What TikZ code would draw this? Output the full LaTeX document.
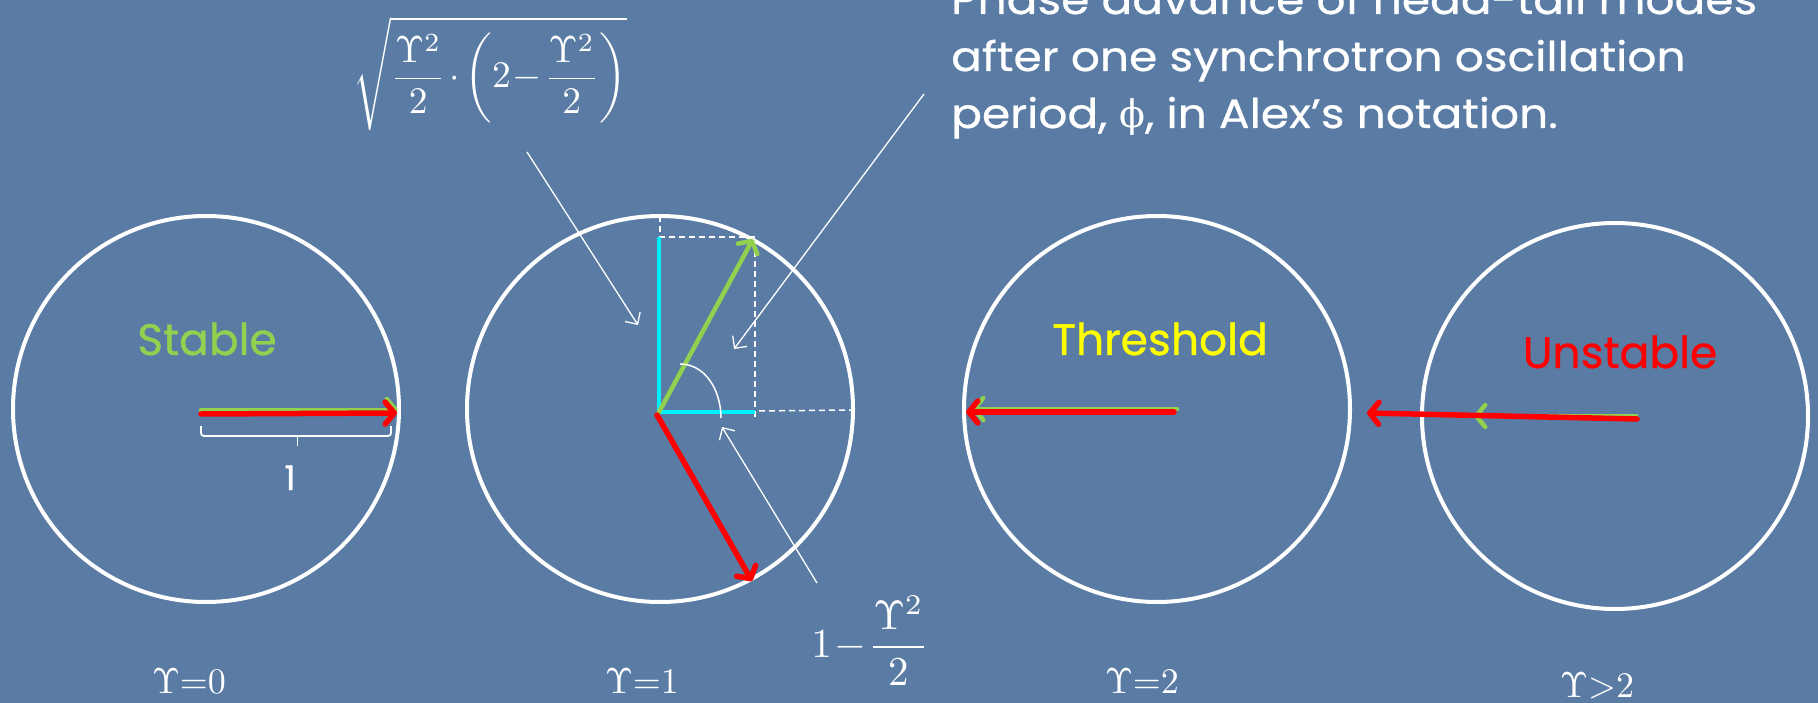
\documentclass[tikz,border=0pt]{standalone}
\usepackage{amsmath}
\usepackage{fontspec}
\setmainfont{Poppins}
\newfontfamily\titlefont[FakeStretch=1.11,FakeBold=0.6]{Poppins}
\newfontfamily\statefont[FakeBold=0.8]{Poppins}
\newfontfamily\phifont{DejaVu Serif}
\usetikzlibrary{arrows.meta}
\definecolor{bg}{RGB}{90,124,164}
\definecolor{lgreen}{RGB}{146,208,80}
\definecolor{cyanx}{RGB}{0,240,255}
\definecolor{yel}{RGB}{255,255,0}
\begin{document}
\begin{tikzpicture}[x=1pt,y=-1pt,
  ring/.style={draw=white,line width=4pt,circle,minimum size=386pt,inner sep=0pt},
  thinarrow/.style={draw=white,line width=1.3pt,-{Straight Barb[length=9pt,width=18pt]}},
  redvec/.style={draw=red,line width=5.5pt,line cap=round,-{Straight Barb[length=9pt,width=22pt,round]}},
  greenvec/.style={draw=lgreen,line width=4.5pt,line cap=round,-{Straight Barb[length=9pt,width=22pt,round]}},
  cyanline/.style={draw=cyanx,line width=4pt},
  guide/.style={draw=white,line width=1.5pt,dash pattern=on 6pt off 4pt},
  title/.style={inner sep=0pt,anchor=base west,text=white,font=\titlefont\fontsize{41}{49}\selectfont},
  state/.style={inner sep=0pt,anchor=base,font=\statefont\fontsize{44}{52}\selectfont},
  gam/.style={inner sep=0pt,anchor=base,text=white},
  mathlbl/.style={inner sep=0pt,text=white},
]
\useasboundingbox (0,0) rectangle (1818,703);
\fill[bg] (0,0) rectangle (1818,703);
\clip (0,0) rectangle (1818,703);

% circles
\node[ring] (c1) at (206,409) {};
\node[ring] (c2) at (660,409) {};
\node[ring] (c3) at (1157,409) {};
\node[ring] (c4) at (1615,416) {};

% top text
\node[title] (t1) at (951,14) {Phase advance of head-tail modes};
\node[title] (t2) at (951,71) {after one synchrotron oscillation};
\node[title] (t3) at (951,128) {period, {\phifont\fontsize{38}{46}\selectfont ϕ}, in Alex’s notation.};

% formula labels
\node[mathlbl] (f1) at (490,74) {\scalebox{3.75}{$\displaystyle\sqrt{\frac{\Upsilon^2}{2}\mkern-2mu\cdot\mkern-2mu\left(2\mkern-3mu-\mkern-3mu\frac{\Upsilon^2}{2}\right)}$}};
\node[mathlbl] (f2) at (870,641) {\scalebox{4.1}{$\displaystyle 1\mkern-3mu-\mkern-3mu\frac{\Upsilon^2}{2}$}};

% state labels
\node[state,text=lgreen] (s1) at (207,355) {Stable};
\node[state,text=yel] (s3) at (1160,355) {Threshold};
\node[state,text=red] (s4) at (1620,368) {Unstable};

% bottom labels
\node[gam] (g0) at (189,693) {\scalebox{3.6}{$\Upsilon{=}0$}};
\node[gam] (g1) at (642,693) {\scalebox{3.6}{$\Upsilon{=}1$}};
\node[gam] (g2) at (1142,693) {\scalebox{3.6}{$\Upsilon{=}2$}};
\node[gam] (g3) at (1597,697) {\scalebox{3.6}{$\Upsilon{>}2$}};

% ---- circle 1: stable
\coordinate (o1g) at (201,410);
\coordinate (e1g) at (398,410);
\coordinate (o1r) at (201,414);
\coordinate (e1r) at (397,413);
\draw[greenvec] (o1g) -- (e1g);
\draw[redvec] (o1r) -- (e1r);
\draw[white,line width=1.8pt,rounded corners=3pt] (201,426) -- (201,436) -- (391,436) -- (391,426);
\draw[white,line width=1.8pt] (297.5,436) -- (297.5,446);
\node[inner sep=0pt,anchor=base,text=white,font=\statefont\fontsize{34}{40}\selectfont] (one) at (290,490) {1};

% ---- circle 2
\coordinate (o2) at (659,412);
\coordinate (top2) at (660,216);
\coordinate (cy2) at (659,237);
\coordinate (cx2) at (755,412);
\coordinate (corner2) at (755,237);
\coordinate (edge2) at (853,410);
\coordinate (g2e) at (753,239);
\coordinate (r2s) at (657,415);
\coordinate (r2e) at (752,581);
\draw[guide] (top2) -- (660,412);
\draw[guide] (cy2) -- (corner2) -- (755,418);
\draw[guide] (o2) -- (edge2);
\draw[cyanline] (o2) -- (cy2);
\draw[cyanline] (o2) -- (cx2);
\draw[greenvec] (o2) -- (g2e);
\draw[redvec] (r2s) -- (r2e);
\draw[white,line width=1.5pt] (680,364) .. controls (705,364) and (721,390) .. (721,418);

% annotation arrows
\coordinate (a1s) at (527,152);
\coordinate (a1e) at (638,325);
\coordinate (a2s) at (924,94);
\coordinate (a2e) at (734,349);
\coordinate (a3s) at (817,583);
\coordinate (a3e) at (722,427);
\draw[thinarrow] (a1s) -- (a1e);
\draw[thinarrow] (a2s) -- (a2e);
\draw[thinarrow] (a3s) -- (a3e);

% ---- circle 3: threshold
\draw[greenvec] (1177,409) -- (972,409);
\draw[redvec] (1174,412) -- (966,412);

% ---- circle 4: unstable
\draw[greenvec] (1636,416) -- (1474,416);
\draw[redvec] (1637,419) -- (1367,413);
\end{tikzpicture}
\end{document}
